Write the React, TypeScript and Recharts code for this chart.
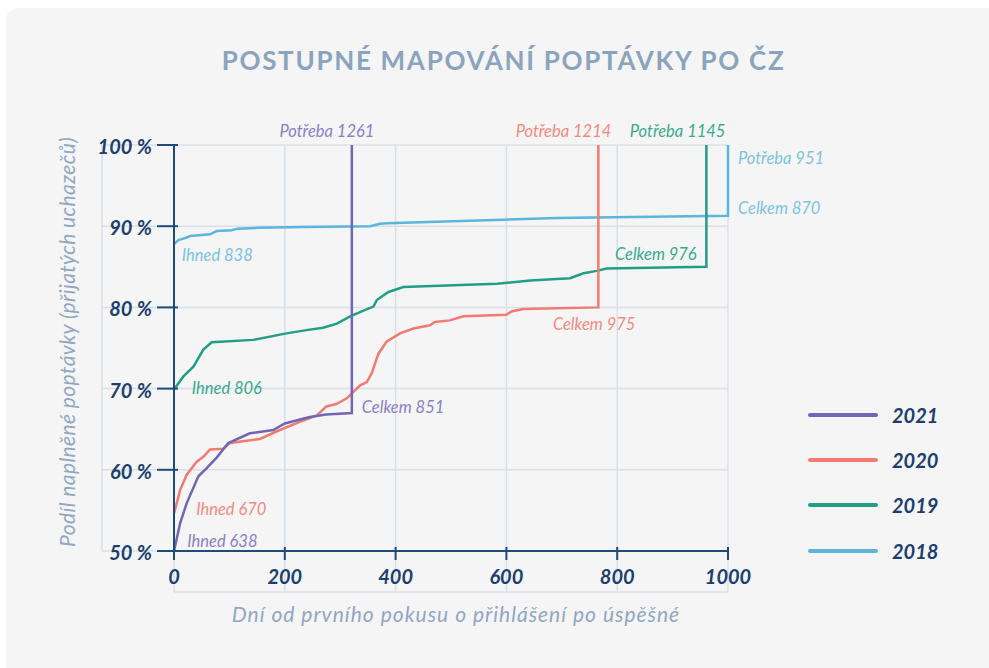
import React from "react"
import { LineChart, Line, XAxis, YAxis, ReferenceLine, ReferenceDot, Legend } from "recharts"

// values: days from first attempt -> share of demand filled (%)
const days2021 = [0, 11, 23, 44, 59, 77, 98, 137, 179, 200, 245, 275, 321, 321]
const share2021 = [50, 53.4, 55.9, 59.2, 60.2, 61.5, 63.3, 64.5, 64.9, 65.7, 66.5, 66.8, 67.0, 100]

const days2020 = [0, 11, 23, 41, 53, 65, 89, 101, 155, 191, 227, 258, 275, 293, 312, 321, 336, 348, 357, 369, 384, 408, 432, 462, 471, 498, 522, 600, 609, 630, 766, 766]
const share2020 = [54.6, 57.5, 59.4, 61.0, 61.6, 62.5, 62.6, 63.3, 63.8, 64.9, 65.9, 66.7, 67.8, 68.1, 68.8, 69.4, 70.4, 70.8, 71.9, 74.3, 75.8, 76.8, 77.4, 77.8, 78.2, 78.4, 78.9, 79.1, 79.5, 79.8, 80.0, 100]

const days2019 = [0, 17, 35, 53, 68, 143, 203, 239, 269, 294, 318, 342, 360, 366, 387, 414, 583, 643, 715, 739, 763, 781, 961, 961]
const share2019 = [69.9, 71.5, 72.7, 74.8, 75.7, 76.0, 76.8, 77.2, 77.5, 78.0, 78.9, 79.6, 80.1, 80.9, 81.9, 82.5, 82.9, 83.3, 83.6, 84.2, 84.5, 84.8, 85.0, 100]

const days2018 = [0, 8, 23, 29, 65, 77, 104, 115, 151, 235, 354, 372, 384, 594, 690, 1000, 1000]
const share2018 = [87.8, 88.3, 88.6, 88.8, 89.0, 89.4, 89.5, 89.7, 89.8, 89.9, 90.0, 90.3, 90.35, 90.8, 91.0, 91.3, 100]

const years = ["2021", "2020", "2019", "2018"]

const xTicks = [0, 200, 400, 600, 800, 1000]
const yTicks = [50, 60, 70, 80, 90, 100]

// annotations (text, where it sits in data units, which year it belongs to)
const noteText = ["Potřeba 1261", "Celkem 851", "Ihned 638", "Potřeba 1214", "Celkem 975", "Ihned 670", "Potřeba 1145", "Celkem 976", "Ihned 806", "Potřeba 951", "Celkem 870", "Ihned 838"]
const noteDay = [276, 339, 24, 703, 684, 40, 909, 796, 32, 1018, 1018, 14]
const noteShare = [101, 67.0, 50.5, 101, 77.2, 54.4, 101, 85.84, 69.3, 97.7, 91.5, 85.75]
const noteYear = [0, 0, 0, 1, 1, 1, 2, 2, 2, 3, 3, 3]
const noteAnchor = ["middle", "start", "start", "middle", "start", "start", "middle", "start", "start", "start", "start", "start"]

const LINE_COLORS = ["#7166b3", "#f27a72", "#229e86", "#5bb5dc"]
const NOTE_COLORS = ["#8a81c5", "#f38a82", "#3aa98f", "#7cc3e2"]
const AXIS = "#1f4a7a"
const TICK_TEXT = "#1b3f6e"
const GRID = "#d8e0e9"
const MUTED = "#8fa8c2"
const FONT = "Lato, 'Open Sans', sans-serif"

// grid reaches past the axes in the reference
const GRID_LEFT = -130
const GRID_BOTTOM = 44.95

const TICK_IN = 4

const toPoints = (days: number[], share: number[]) => days.map((d, i) => ({ day: d, share: share[i] }))

const series = [
  { year: years[0], data: toPoints(days2021, share2021), color: LINE_COLORS[0] },
  { year: years[1], data: toPoints(days2020, share2020), color: LINE_COLORS[1] },
  { year: years[2], data: toPoints(days2019, share2019), color: LINE_COLORS[2] },
  { year: years[3], data: toPoints(days2018, share2018), color: LINE_COLORS[3] },
]

const YTick = ({ x, y, payload }: any) => (
  <g>
    <line x1={x + 5 + 17} x2={x + 5 + 17 + TICK_IN} y1={y} y2={y} stroke={AXIS} strokeWidth={2} />
    <text x={x} y={y + 9} textAnchor="end" fill={TICK_TEXT} fontSize={20} fontStyle="italic" fontWeight={700} fontFamily={FONT}>
      {`${payload.value} %`}
    </text>
  </g>
)

const XTick = ({ x, y, payload }: any) => (
  <g>
    <line x1={x} x2={x} y1={y - 7 - 9} y2={y - 7 - 9 - TICK_IN} stroke={AXIS} strokeWidth={2} />
    <text x={x} y={y + 17} textAnchor="middle" fill={TICK_TEXT} fontSize={20} fontStyle="italic" fontWeight={700} fontFamily={FONT}>
      {payload.value}
    </text>
  </g>
)

const YLabel = ({ viewBox }: any) => {
  const cx = viewBox.x + 66
  const cy = viewBox.y + viewBox.height / 2 - 6
  return (
    <text x={cx} y={cy} transform={`rotate(-90 ${cx} ${cy})`} textAnchor="middle" dominantBaseline="central" fill={MUTED} fontSize={21} letterSpacing={0.4} fontStyle="italic" fontFamily={FONT}>
      Podíl naplněné poptávky (přijatých uchazečů)
    </text>
  )
}

const XLabel = ({ viewBox }: any) => (
  <text x={viewBox.x + viewBox.width / 2 + 5} y={viewBox.y + 71} textAnchor="middle" fill={MUTED} fontSize={21} letterSpacing={1} fontStyle="italic" fontFamily={FONT}>
    Dní od prvního pokusu o přihlášení po úspěšné
  </text>
)

const YearLegend = ({ payload }: any) => {
  const items = [...(payload || [])].sort((a: any, b: any) => Number(b.value) - Number(a.value))
  return (
    <div>
      {items.map((it: any) => (
        <div key={it.value} style={{ display: "flex", alignItems: "center", height: 45.3 }}>
          <div style={{ width: 70, height: 4, borderRadius: 2, background: it.color }} />
          <span style={{ marginLeft: 14, fontFamily: FONT, fontStyle: "italic", fontWeight: 700, fontSize: 20, color: TICK_TEXT }}>
            {it.value}
          </span>
        </div>
      ))}
    </div>
  )
}

export default function App() {
  const drawOrder = [...series].reverse()
  return (
    <div style={{ position: "absolute", left: 0, top: 0, width: 989, height: 668, background: "#fff", overflow: "hidden" }}>
      <div style={{ position: "absolute", left: 6, top: 8, width: 1000, height: 700, background: "#f5f5f5", borderRadius: 12 }} />
      <div
        style={{
          position: "absolute",
          left: 0,
          top: 44,
          width: 1007,
          textAlign: "center",
          fontFamily: FONT,
          fontWeight: 700,
          fontSize: 26,
          letterSpacing: 1.7,
          color: "#8aa4bd",
        }}
      >
        POSTUPNÉ MAPOVÁNÍ POPTÁVKY PO ČZ
      </div>
      <div style={{ position: "absolute", left: 0, top: 0 }}>
        <LineChart width={989} height={668} margin={{ top: 145, right: 261, bottom: 0, left: 0 }}>
          {yTicks.map((v) => (
            <ReferenceLine
              key={`h${v}`}
              segment={[{ x: GRID_LEFT, y: v }, { x: v === 50 ? 0 : 1000, y: v }]}
              stroke={GRID}
              strokeWidth={1.5}
              ifOverflow="visible"
            />
          ))}
          <ReferenceLine segment={[{ x: GRID_LEFT, y: 50 }, { x: GRID_LEFT, y: 100 }]} stroke={GRID} strokeWidth={1.5} ifOverflow="visible" />
          {xTicks.map((d) => (
            <ReferenceLine
              key={`v${d}`}
              segment={[{ x: d, y: GRID_BOTTOM }, { x: d, y: d === 0 ? 50 : 100 }]}
              stroke={GRID}
              strokeWidth={1.5}
              ifOverflow="visible"
            />
          ))}
          <ReferenceLine segment={[{ x: 0, y: GRID_BOTTOM }, { x: 1000, y: GRID_BOTTOM }]} stroke={GRID} strokeWidth={1.5} ifOverflow="visible" />
          <XAxis
            type="number"
            dataKey="day"
            domain={[0, 1000]}
            ticks={xTicks}
            height={117}
            axisLine={{ stroke: AXIS, strokeWidth: 2 }}
            tickLine={{ stroke: AXIS, strokeWidth: 2 }}
            tickSize={9}
            tickMargin={7}
            tick={<XTick />}
            label={<XLabel />}
          />
          <YAxis
            type="number"
            dataKey="share"
            domain={[50, 100]}
            ticks={yTicks}
            width={174}
            axisLine={{ stroke: AXIS, strokeWidth: 2 }}
            tickLine={{ stroke: AXIS, strokeWidth: 2 }}
            tickSize={17}
            tickMargin={5}
            tick={<YTick />}
            label={<YLabel />}
          />
          {drawOrder.map((s) => (
            <Line
              key={s.year}
              name={s.year}
              data={s.data}
              dataKey="share"
              type="linear"
              stroke={s.color}
              strokeWidth={2.5}
              dot={false}
              activeDot={false}
              isAnimationActive={false}
            />
          ))}
          {noteText.map((t, i) => (
            <ReferenceDot
              key={t}
              x={noteDay[i]}
              y={noteShare[i]}
              r={0}
              ifOverflow="visible"
              shape={(p: any) => (
                <text x={p.cx} y={p.cy} textAnchor={noteAnchor[i] as any} fill={NOTE_COLORS[noteYear[i]]} fontSize={16.5} fontStyle="italic" fontFamily={FONT}>
                  {t}
                </text>
              )}
            />
          ))}
          <Legend
            layout="horizontal"
            verticalAlign="middle"
            content={<YearLegend />}
            wrapperStyle={{ position: "absolute", left: 808, top: 392, width: 160 }}
          />
        </LineChart>
      </div>
    </div>
  )
}
